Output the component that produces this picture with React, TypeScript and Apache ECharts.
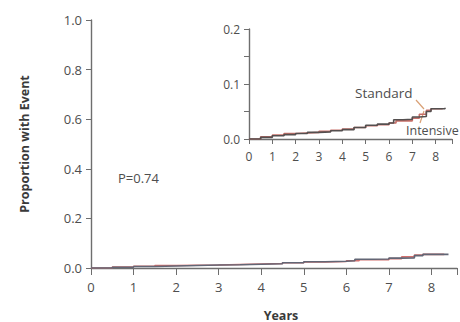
import React, { useEffect, useRef } from "react";
import * as echarts from "echarts";

const yearsStd = [0, 0.5, 1, 1.5, 2, 2.5, 3, 3.5, 4, 4.5, 5, 5.5, 6, 6.2, 6.6, 7, 7.3, 7.6, 7.8, 8.4];
const valsStd = [0, 0.003, 0.006, 0.008, 0.01, 0.012, 0.013, 0.015, 0.017, 0.021, 0.025, 0.027, 0.029, 0.035, 0.036, 0.04, 0.041, 0.05, 0.055, 0.057];
const yearsInt = [0, 0.5, 1, 1.5, 2, 2.5, 3, 3.5, 4, 4.5, 5, 5.5, 6, 6.3, 7, 7.3, 7.6, 7.8, 8.3];
const valsInt = [0, 0.004, 0.007, 0.01, 0.011, 0.012, 0.014, 0.016, 0.018, 0.021, 0.024, 0.026, 0.029, 0.033, 0.038, 0.045, 0.052, 0.055, 0.056];
const mainYTicks = [0, 0.2, 0.4, 0.6, 0.8, 1.0];
const insetYTicks = [0, 0.1, 0.2];
const seriesNames = ["Standard", "Intensive"];
const pText = "P=0.74";

const FONT = "'Open Sans', 'DejaVu Sans', sans-serif";
const TXT = "#4e4e4e";
const AX = "#6e6e6e";

export default function App() {
  const ref = useRef<HTMLDivElement>(null);
  useEffect(() => {
    const chart = echarts.init(ref.current!, null, { renderer: "svg" });
    const std = yearsStd.map((x, i) => [x, valsStd[i]]);
    const intv = yearsInt.map((x, i) => [x, valsInt[i]]);
    const axisCommon = {
      axisLine: { show: true, lineStyle: { color: AX, width: 1.4 } },
      splitLine: { show: false },
    };
    chart.setOption({
      animation: false,
      grid: [
        { left: 91, top: 20, width: 369, height: 248 },
        { left: 249, top: 29, width: 203, height: 110 },
      ],
      xAxis: [
        {
          type: "value", gridIndex: 0, min: 0, max: 8.6, interval: 1,
          ...axisCommon,
          axisTick: { show: true, length: 7, lineStyle: { color: AX } },
          axisLabel: {
            color: TXT, fontSize: 13, fontFamily: FONT, margin: 12,
            formatter: (v: number) => (v <= 8 ? String(v) : ""),
          },
        },
        {
          type: "value", gridIndex: 1, min: 0, max: 8.7, interval: 1,
          ...axisCommon,
          axisTick: { show: true, length: 5, lineStyle: { color: AX } },
          axisLabel: {
            color: TXT, fontSize: 12, fontFamily: FONT, margin: 11,
            formatter: (v: number) => (v <= 8 ? String(v) : ""),
          },
        },
      ],
      yAxis: [
        {
          type: "value", gridIndex: 0, min: 0, max: 1, interval: 0.2,
          ...axisCommon,
          axisTick: { show: true, length: 5, lineStyle: { color: AX } },
          axisLabel: {
            color: TXT, fontSize: 13, fontFamily: FONT, margin: 9,
            formatter: (v: number) => (mainYTicks.some((t) => Math.abs(t - v) < 1e-6) ? v.toFixed(1) : ""),
          },
          name: "Proportion with Event",
          nameLocation: "middle",
          nameGap: 60,
          nameTextStyle: { color: "#3a3a3a", fontSize: 12.5, fontWeight: "bold", fontFamily: FONT },
        },
        {
          type: "value", gridIndex: 1, min: 0, max: 0.2, interval: 0.05,
          ...axisCommon,
          axisTick: { show: true, length: 5, lineStyle: { color: AX } },
          axisLabel: {
            color: TXT, fontSize: 12, fontFamily: FONT, margin: 9,
            formatter: (v: number) => (insetYTicks.some((t) => Math.abs(t - v) < 1e-6) ? v.toFixed(1) : ""),
          },
        },
      ],
      series: [
        {
          name: seriesNames[1], type: "line", xAxisIndex: 0, yAxisIndex: 0, data: intv,
          step: "end", symbol: "none", lineStyle: { color: "#d2706e", width: 1.6 },
        },
        {
          name: seriesNames[0], type: "line", xAxisIndex: 0, yAxisIndex: 0, data: std,
          step: "end", symbol: "none", lineStyle: { color: "#626675", width: 1.6 },
        },
        {
          name: seriesNames[1], type: "line", xAxisIndex: 1, yAxisIndex: 1, data: intv,
          step: "end", symbol: "none", lineStyle: { color: "#c8706a", width: 1.6 },
        },
        {
          name: seriesNames[0], type: "line", xAxisIndex: 1, yAxisIndex: 1, data: std,
          step: "end", symbol: "none", lineStyle: { color: "#544f4f", width: 1.6 },
        },
      ],
      graphic: [
        {
          type: "text", x: 281, y: 315,
          style: { text: "Years", fill: "#3a3a3a", font: `bold 12.5px ${FONT}`, align: "center", verticalAlign: "middle" },
        },
        {
          type: "text", x: 118, y: 178,
          style: { text: pText, fill: TXT, font: `13px ${FONT}`, align: "left", verticalAlign: "middle" },
        },
        {
          type: "text", x: 355, y: 93,
          style: { text: seriesNames[0], fill: "#4e4e4e", font: `13.5px ${FONT}`, align: "left", verticalAlign: "middle" },
        },
        {
          type: "text", x: 406, y: 130,
          style: { text: seriesNames[1], fill: "#4e4e4e", font: `12.5px ${FONT}`, align: "left", verticalAlign: "middle" },
        },
        {
          type: "line", shape: { x1: 416, y1: 100, x2: 424, y2: 109 },
          style: { stroke: "#d9a075", lineWidth: 1.2 },
        },
        {
          type: "line", shape: { x1: 424, y1: 111, x2: 420, y2: 123 },
          style: { stroke: "#d9a075", lineWidth: 1.2 },
        },
      ],
    });
    return () => chart.dispose();
  }, []);
  return <div ref={ref} style={{ position: "fixed", left: 0, top: 0, width: 460, height: 322, background: "#fff" }} />;
}
